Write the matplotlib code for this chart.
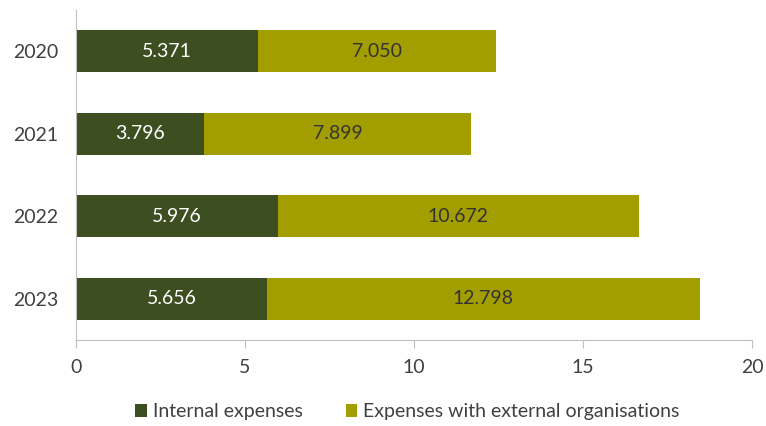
import matplotlib
matplotlib.use("Agg")
from matplotlib import pyplot as plt
import numpy as np

years = ["2020", "2021", "2022", "2023"]
internal = [5.371, 3.796, 5.976, 5.656]
external = [7.050, 7.899, 10.672, 12.798]
series_names = ["Internal expenses", "Expenses with external organisations"]

DARK = "#3d4f21"
OLIVE = "#a39e00"
GREY = "#bfbfbf"
FS = 14

plt.rcParams["font.family"] = ["Lato", "DejaVu Sans"]

fig = plt.figure(figsize=(7.66, 4.26), dpi=100)
ax = fig.add_axes([0.0992, 0.2019, 0.8825, 0.7746])

y = np.arange(len(years))
b1 = ax.barh(y, internal, height=0.51, color=DARK, label=series_names[0])
b2 = ax.barh(y, external, left=internal, height=0.51, color=OLIVE, label=series_names[1])

for rect, v in zip(b1, internal):
    ax.text(rect.get_x() + rect.get_width() / 2, rect.get_y() + rect.get_height() / 2,
            f"{v:.3f}", ha="center", va="center", color="white", fontsize=FS)
for rect, v in zip(b2, external):
    ax.text(rect.get_x() + rect.get_width() / 2, rect.get_y() + rect.get_height() / 2,
            f"{v:.3f}", ha="center", va="center", color="#333333", fontsize=FS)

ax.set_xlim(0, 20)
ax.set_ylim(len(years) - 0.5, -0.5)
ax.set_yticks(y)
ax.set_yticklabels(years)
ax.set_xticks([0, 5, 10, 15, 20])

for s in ["top", "right"]:
    ax.spines[s].set_visible(False)
ax.spines["left"].set_color(GREY)
ax.spines["bottom"].set_color(GREY)
ax.tick_params(axis="y", length=0, pad=13, labelsize=FS, labelcolor="#404040")
ax.tick_params(axis="x", length=6, color=GREY, pad=8, labelsize=FS, labelcolor="#404040")

fig.legend(handles=[b1, b2], loc="lower center", bbox_to_anchor=(0.532, -0.028), ncol=2,
           frameon=False, fontsize=FS, handlelength=0.6, handleheight=0.6,
           handletextpad=0.3, columnspacing=2.2, labelcolor="#404040")

fig.savefig("out.png", dpi=100)
